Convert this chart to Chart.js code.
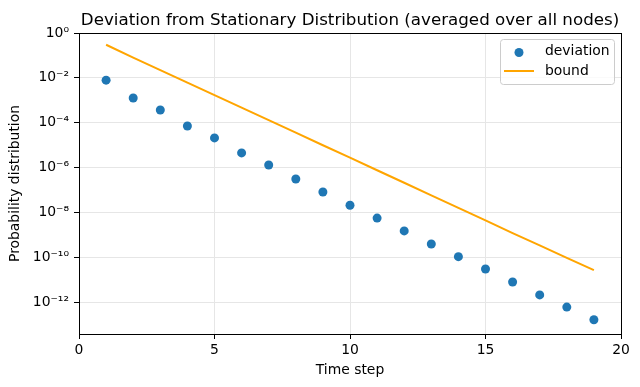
<!DOCTYPE html>
<html>
<head>
<meta charset="utf-8">
<script src="https://cdn.jsdelivr.net/npm/chart.js@4"></script>
<style>
  html, body { margin: 0; padding: 0; background: #fff; }
  #wrap { width: 640px; height: 387px; }
</style>
</head>
<body>
<div id="wrap"><canvas id="myChart" width="640" height="387"></canvas></div>
<script>
// data
const steps = [1, 2, 3, 4, 5, 6, 7, 8, 9, 10, 11, 12, 13, 14, 15, 16, 17, 18, 19];
const deviation = [7.9e-3, 1.26e-3, 3.7e-4, 7.1e-5, 2.1e-5, 4.5e-6, 1.3e-6, 3.1e-7, 8.1e-8, 2.1e-8,
  5.6e-9, 1.5e-9, 3.9e-10, 1.07e-10, 3.0e-11, 7.9e-12, 2.1e-12, 6.0e-13, 1.65e-13];
const bound = [0.30, 0.080, 0.0222, 6.1e-3, 1.7e-3, 4.7e-4, 1.3e-4, 3.6e-5, 9.9e-6, 2.8e-6,
  7.6e-7, 2.1e-7, 5.8e-8, 1.6e-8, 4.4e-9, 1.2e-9, 3.4e-10, 9.4e-11, 2.7e-11];
const yTickValues = [1, 1e-2, 1e-4, 1e-6, 1e-8, 1e-10, 1e-12];
const yTickLabels = ['10⁰', '10⁻²', '10⁻⁴', '10⁻⁶', '10⁻⁸', '10⁻¹⁰', '10⁻¹²'];
const xTicks = [0, 5, 10, 15, 20];

const FONT = "'DejaVu Sans', sans-serif";
const BLUE = '#1f77b4';
const ORANGE = '#ffa500';

// title + frame + legend, drawn matplotlib-style
const mplDecor = {
  id: 'mplDecor',
  afterDraw(chart) {
    const ctx = chart.ctx;
    const a = chart.chartArea;
    ctx.save();
    // frame
    ctx.strokeStyle = '#000';
    ctx.lineWidth = 1;
    ctx.strokeRect(Math.round(a.left) + 0.5, Math.round(a.top) + 0.5,
      Math.round(a.right - a.left) - 1 + 1, Math.round(a.bottom - a.top));
    // title
    ctx.fillStyle = '#000';
    ctx.font = '16.7px ' + FONT;
    ctx.textAlign = 'center';
    ctx.textBaseline = 'alphabetic';
    ctx.fillText('Deviation from Stationary Distribution (averaged over all nodes)', (a.left + a.right) / 2, 25);
    // legend box
    const bx = 500.5, by = 39.5, bw = 114, bh = 45, r = 3;
    ctx.beginPath();
    ctx.moveTo(bx + r, by);
    ctx.arcTo(bx + bw, by, bx + bw, by + bh, r);
    ctx.arcTo(bx + bw, by + bh, bx, by + bh, r);
    ctx.arcTo(bx, by + bh, bx, by, r);
    ctx.arcTo(bx, by, bx + bw, by, r);
    ctx.closePath();
    ctx.fillStyle = 'rgba(255,255,255,0.8)';
    ctx.fill();
    ctx.strokeStyle = '#cccccc';
    ctx.stroke();
    const ds = chart.data.datasets;
    ctx.font = '13.9px ' + FONT;
    ctx.textAlign = 'left';
    ctx.textBaseline = 'middle';
    // deviation entry
    ctx.fillStyle = ds[0].backgroundColor;
    ctx.beginPath();
    ctx.arc(519, 52.5, 4.5, 0, Math.PI * 2);
    ctx.fill();
    ctx.fillStyle = '#000';
    ctx.fillText(ds[0].label, 545, 51.5);
    // bound entry
    ctx.strokeStyle = ds[1].borderColor;
    ctx.lineWidth = 2;
    ctx.beginPath();
    ctx.moveTo(504, 71);
    ctx.lineTo(534, 71);
    ctx.stroke();
    ctx.fillStyle = '#000';
    ctx.fillText(ds[1].label, 545, 71.5);
    ctx.restore();
  }
};

const deviationPoints = steps.map((s, i) => ({ x: s, y: deviation[i] }));
const boundPoints = steps.map((s, i) => ({ x: s, y: bound[i] }));

new Chart(document.getElementById('myChart').getContext('2d'), {
  type: 'scatter',
  data: {
    datasets: [
      {
        label: 'deviation',
        data: deviationPoints,
        backgroundColor: BLUE,
        borderColor: BLUE,
        pointRadius: 4.5,
        borderWidth: 0,
        order: 1
      },
      {
        label: 'bound',
        data: boundPoints,
        showLine: true,
        borderColor: ORANGE,
        backgroundColor: ORANGE,
        borderWidth: 2,
        pointRadius: 0,
        order: 2
      }
    ]
  },
  options: {
    responsive: false,
    animation: false,
    layout: { padding: { top: 33, right: 19, left: 0, bottom: 0 } },
    plugins: {
      legend: { display: false },
      title: { display: false },
      tooltip: { enabled: false }
    },
    scales: {
      x: {
        type: 'linear',
        min: 0,
        max: 20,
        afterBuildTicks: (scale) => { scale.ticks = xTicks.map(v => ({ value: v })); },
        afterFit: (scale) => { scale.height = 53; },
        ticks: { color: '#000', font: { family: FONT, size: 13.9 }, padding: 3, maxRotation: 0 },
        grid: { color: '#e6e6e6', lineWidth: 1, tickColor: '#000', tickLength: 5 },
        border: { color: '#000', width: 1 },
        title: { display: true, text: 'Time step', color: '#000', font: { family: FONT, size: 13.9 }, padding: { top: 0, bottom: 8 } }
      },
      y: {
        type: 'logarithmic',
        min: 3.8e-14,
        max: 1,
        afterBuildTicks: (scale) => { scale.ticks = yTickValues.map(v => ({ value: v })); },
        afterFit: (scale) => { scale.width = 79; },
        ticks: {
          color: '#000',
          font: { family: FONT, size: 13.9 },
          padding: 5,
          autoSkip: false,
          callback: (v) => {
            const i = yTickValues.findIndex(t => Math.abs(Math.log10(t) - Math.log10(v)) < 1e-6);
            return i >= 0 ? yTickLabels[i] : '';
          }
        },
        grid: { color: '#e6e6e6', lineWidth: 1, tickColor: '#000', tickLength: 5 },
        border: { color: '#000', width: 1 },
        title: { display: true, text: 'Probability distribution', color: '#000', font: { family: FONT, size: 13.9 }, padding: { top: 7, bottom: 0 } }
      }
    }
  },
  plugins: [mplDecor]
});
</script>
</body>
</html>
